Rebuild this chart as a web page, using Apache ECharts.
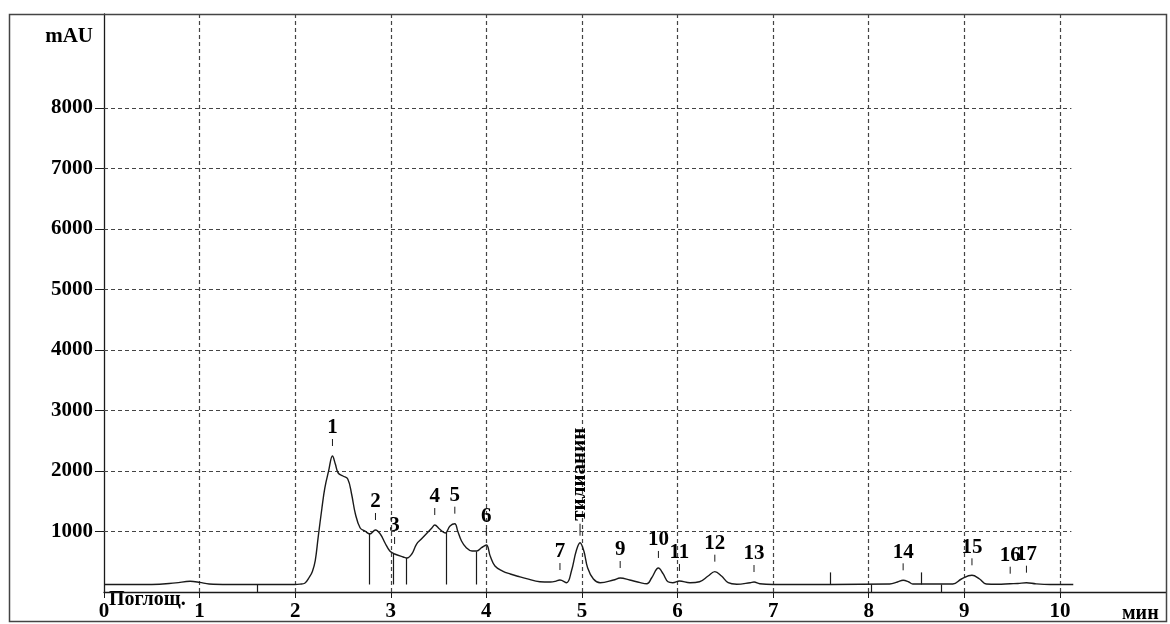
<!DOCTYPE html>
<html>
<head>
<meta charset="utf-8">
<script src="https://cdn.jsdelivr.net/npm/echarts@6/dist/echarts.min.js"></script>
<style>
  html, body { margin: 0; padding: 0; background: #fff; }
  #chart { width: 1170px; height: 624px; }
</style>
</head>
<body>
<div id="chart"></div>
<script>
// Chromatogram trace: retention time (min) and absorbance (mAU)
const retentionTime = [
  0, 0.5, 0.75, 0.9, 1.0, 1.1, 1.3, 2.0, 2.05, 2.1, 2.15, 2.18, 2.21, 2.24, 2.28, 2.31, 2.35, 2.39,
  2.42, 2.45, 2.5, 2.55, 2.59, 2.63, 2.68, 2.73, 2.78, 2.84, 2.89, 2.94, 2.99, 3.04, 3.13, 3.17,
  3.22, 3.27, 3.32, 3.37, 3.43, 3.46, 3.51, 3.57, 3.62, 3.67, 3.70, 3.74, 3.79, 3.85, 3.9, 3.95,
  4.0, 4.04, 4.09, 4.17, 4.25, 4.35, 4.42, 4.56, 4.67, 4.72, 4.77, 4.84, 4.89, 4.94, 4.98, 5.02,
  5.06, 5.12, 5.19, 5.33, 5.4, 5.5, 5.61, 5.68, 5.73, 5.8, 5.85, 5.9, 5.95, 6.02, 6.13, 6.23,
  6.32, 6.39, 6.46, 6.53, 6.62, 6.76, 6.8, 6.86, 7.0, 8.22, 8.3, 8.36, 8.42, 8.46, 8.88, 8.97,
  9.08, 9.16, 9.23, 9.35, 9.48, 9.56, 9.65, 9.75, 9.9, 10.14
];
const absorbance = [
  124, 124, 150, 177, 160, 132, 124, 124, 130, 145, 250, 340, 520, 900, 1389, 1719, 2001, 2248,
  2116, 1967, 1917, 1868, 1620, 1289, 1058, 1008, 959, 1025, 959, 810, 678, 628, 579, 562,
  628, 793, 876, 959, 1058, 1107, 1041, 975, 1091, 1129, 1008, 843, 732, 678, 678, 732,
  777, 595, 430, 347, 298, 250, 220, 170, 165, 175, 198, 154, 347, 678, 815, 678,
  397, 215, 154, 198, 231, 198, 154, 137, 236, 397, 298, 170, 154, 182, 154, 170,
  264, 336, 264, 154, 128, 154, 165, 137, 124, 132, 165, 193, 165, 132, 132, 215,
  276, 215, 132, 128, 137, 140, 154, 135, 124, 124
];

// Peak annotations
const peakNames = ['1', '2', '3', '4', '5', '6', '7', 'тилианин', '9', '10', '11', '12', '13', '14', '15', '16', '17'];
const peakTimes = [2.39, 2.84, 3.04, 3.46, 3.67, 4.0, 4.77, 4.98, 5.4, 5.8, 6.02, 6.39, 6.8, 8.36, 9.08, 9.48, 9.65];
const peakHeights = [2248, 1025, 628, 1107, 1129, 777, 198, 815, 231, 397, 182, 336, 165, 193, 276, 137, 154];

// Integration drop lines (time, signal at the cut)
const dropTimes = [2.78, 3.03, 3.16, 3.58, 3.89];
const dropHeights = [975, 640, 562, 992, 670];
const baselineLevel = 124;

// Integration event markers on the baseline
const eventsAbove = [7.6, 8.55];
const eventsBelow = [1.6, 8.03, 8.76];

// Axis ticks
const xTicks = [0, 1, 2, 3, 4, 5, 6, 7, 8, 9, 10];
const yTicks = [1000, 2000, 3000, 4000, 5000, 6000, 7000, 8000];
const xMax = 11.11;
const yMax = 9554;
const gridEnd = 10.12;

const FONT = 'Liberation Serif';
const INK = '#1a1a1a';
const GRID = '#444';

const chart = echarts.init(document.getElementById('chart'), null, { renderer: 'canvas' });

const gridLines = [];
yTicks.forEach(v => gridLines.push([{ coord: [0, v] }, { coord: [gridEnd, v] }]));
xTicks.slice(1).forEach(t => gridLines.push([{ coord: [t, 0] }, { coord: [t, yMax] }]));

const dropLines = dropTimes.map((t, i) => [{ coord: [t, baselineLevel] }, { coord: [t, dropHeights[i]] }]);
const eventLines = []
  .concat(eventsAbove.map(t => [{ coord: [t, baselineLevel] }, { coord: [t, baselineLevel + 200] }]))
  .concat(eventsBelow.map(t => [{ coord: [t, 0] }, { coord: [t, baselineLevel] }]));

chart.setOption({
  animation: false,
  backgroundColor: '#fff',
  grid: { left: 104, top: 14, right: 4, bottom: 32, containLabel: false },
  xAxis: {
    type: 'value', min: 0, max: xMax, interval: 1,
    axisLine: { show: true, onZero: false, lineStyle: { color: INK, width: 1.3 } },
    axisTick: { show: true, length: 6, customValues: xTicks, lineStyle: { color: INK } },
    axisLabel: {
      customValues: xTicks, color: '#000', fontFamily: FONT, fontWeight: 'bold', fontSize: 21, margin: 9,
      formatter: v => (v <= 10 ? String(v) : '')
    },
    splitLine: { show: false }
  },
  yAxis: {
    type: 'value', min: 0, max: yMax, interval: 1000,
    axisLine: { show: true, lineStyle: { color: INK, width: 1.3 } },
    axisTick: { show: true, length: 9, customValues: yTicks, lineStyle: { color: INK } },
    axisLabel: {
      customValues: yTicks, color: '#000', fontFamily: FONT, fontWeight: 'bold', fontSize: 21, margin: 11,
      formatter: v => String(v)
    },
    splitLine: { show: false }
  },
  graphic: [
    { type: 'rect', shape: { x: 9.5, y: 14.5, width: 1157, height: 607 }, style: { fill: 'none', stroke: '#444', lineWidth: 1.5 }, z: 10 },
    { type: 'text', right: 1077, top: 26, style: { text: 'mAU', fill: '#000', font: 'bold 21px "Liberation Serif"' } },
    { type: 'text', left: 109, top: 590, style: { text: 'Поглощ.', fill: '#000', font: 'bold 20px "Liberation Serif"' } },
    { type: 'text', left: 1122, top: 604, style: { text: 'мин', fill: '#000', font: 'bold 20px "Liberation Serif"' } }
  ],
  series: [
    {
      name: 'grid',
      type: 'line',
      data: [],
      silent: true,
      markLine: {
        silent: true, symbol: 'none', animation: false,
        label: { show: false },
        lineStyle: { type: [4, 3], color: GRID, width: 1.2 },
        data: gridLines
      }
    },
    {
      name: 'signal',
      type: 'line',
      data: retentionTime.map((t, i) => [t, absorbance[i]]),
      showSymbol: false,
      smooth: 0.4,
      lineStyle: { color: INK, width: 1.4 },
      z: 5,
      markLine: {
        silent: true, symbol: 'none', animation: false,
        label: { show: false },
        lineStyle: { type: 'solid', color: INK, width: 1.2 },
        data: dropLines.concat(eventLines)
      }
    },
    {
      name: 'peaks',
      type: 'custom',
      z: 6,
      data: peakTimes.map((t, i) => [t, peakHeights[i], i]),
      renderItem: (params, api) => {
        const p = api.coord([api.value(0), api.value(1)]);
        const idx = api.value(2);
        const name = peakNames[idx];
        if (name.length > 3) {
          return {
            type: 'group',
            children: [
              { type: 'line', shape: { x1: p[0], y1: p[1] - 19, x2: p[0], y2: p[1] - 7 }, style: { stroke: INK, lineWidth: 1 } },
              {
                type: 'text', x: p[0], y: p[1] - 22, rotation: Math.PI / 2,
                style: { text: name, fill: '#000', font: 'bold 21px "Liberation Serif"', align: 'left', verticalAlign: 'middle' }
              }
            ]
          };
        }
        return {
          type: 'group',
          children: [
            { type: 'line', shape: { x1: p[0], y1: p[1] - 17, x2: p[0], y2: p[1] - 10 }, style: { stroke: INK, lineWidth: 1 } },
            {
              type: 'text', x: p[0], y: p[1] - 28,
              style: { text: name, fill: '#000', font: 'bold 21px "Liberation Serif"', align: 'center', verticalAlign: 'middle' }
            }
          ]
        };
      }
    }
  ]
});
</script>
</body>
</html>
